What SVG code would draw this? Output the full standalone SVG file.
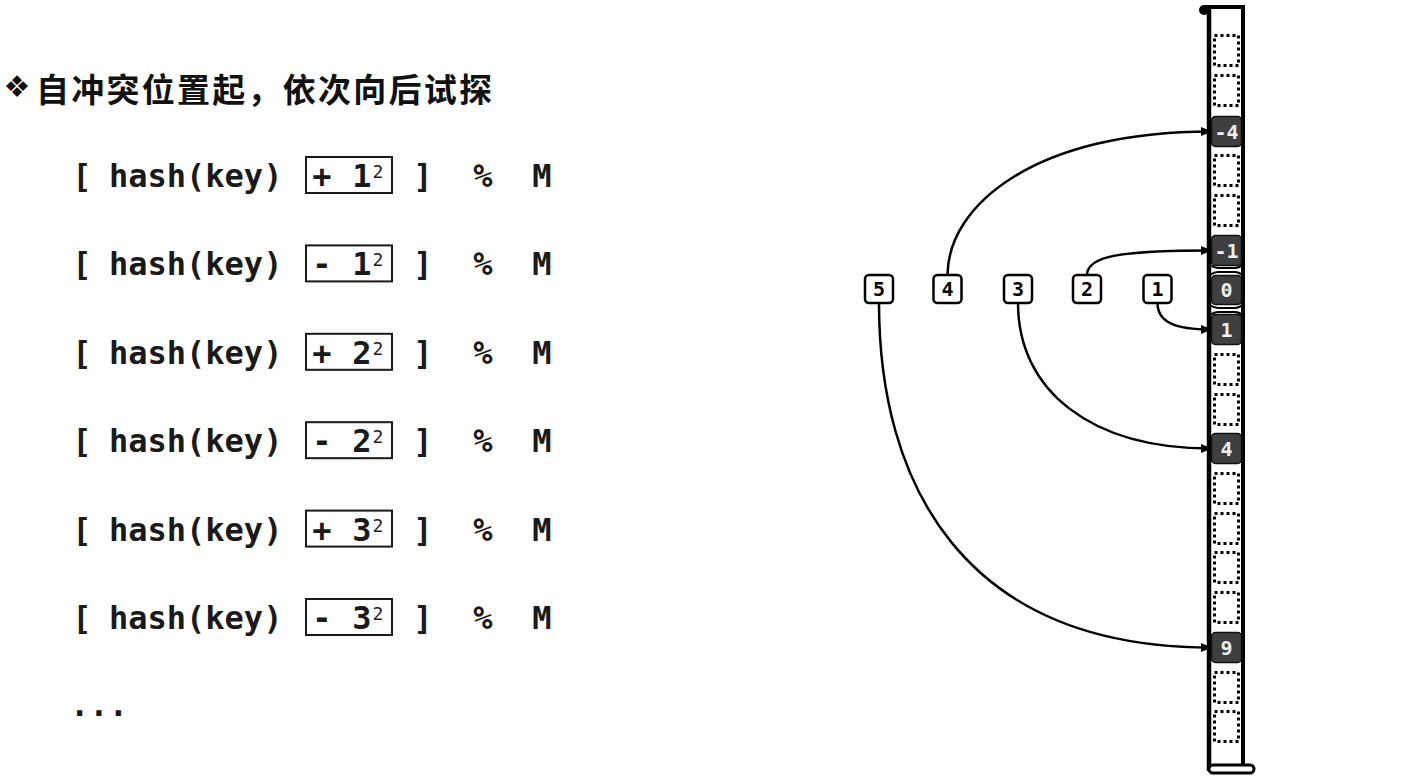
<svg xmlns="http://www.w3.org/2000/svg" width="1407" height="783" viewBox="0 0 1407 783">
<style>
.f{font-family:"DejaVu Sans Mono","Liberation Mono",monospace;font-weight:bold;font-size:32px;fill:#1a1a1a}
.m{text-anchor:middle}
.sup{font-family:"DejaVu Sans Mono","Liberation Mono",monospace;font-size:18px;fill:#1a1a1a;text-anchor:middle}
.bx{fill:none;stroke:#1a1a1a;stroke-width:2}
.nd rect{fill:#fff;stroke:#000;stroke-width:2.5}
.nd text{font-family:"DejaVu Sans Mono",monospace;font-weight:bold;font-size:20px;fill:#000;text-anchor:middle}
.dot{fill:none;stroke:#000;stroke-width:3;stroke-dasharray:3 3}
.dk rect{fill:#3f3f3f;stroke:#111;stroke-width:1.5}
.dk text{font-family:"DejaVu Sans Mono",monospace;font-weight:bold;font-size:20px;fill:#eee;text-anchor:middle}
.cn path{fill:none;stroke:#000;stroke-width:2.5;marker-end:url(#ah)}
</style>
<defs>
<marker id="ah" markerUnits="userSpaceOnUse" markerWidth="11" markerHeight="10" refX="10" refY="5" orient="auto">
<path d="M0,0.5 L11,5 L0,9.5 z" fill="#000"/>
</marker>
</defs>
<rect width="1407" height="783" fill="#fff"/>

<g id="title">
<text x="17" y="97" font-family="DejaVu Sans,sans-serif" font-size="30" text-anchor="middle" fill="#111">❖</text>
<text x="36" y="102" font-family="'Noto Sans CJK SC',sans-serif" font-weight="bold" font-size="33" textLength="456" lengthAdjust="spacing" fill="#111">自冲突位置起，依次向后试探</text>
</g>

<g id="formula1">
<text class="f m" x="82" y="187">[</text><text class="f" x="109" y="187">hash(key)</text>
<rect class="bx" x="306" y="157" width="86" height="36"/>
<text class="f m" x="322" y="187">+</text><text class="f m" x="362" y="187">1</text><text class="sup" x="378" y="178">2</text>
<text class="f m" x="423" y="187">]</text><text class="f m" x="483" y="187">%</text><text class="f m" x="542" y="187">M</text>
</g>
<g id="formula2">
<text class="f m" x="82" y="275.4">[</text><text class="f" x="109" y="275.4">hash(key)</text>
<rect class="bx" x="306" y="245.4" width="86" height="36"/>
<text class="f m" x="322" y="275.4">-</text><text class="f m" x="362" y="275.4">1</text><text class="sup" x="378" y="266.4">2</text>
<text class="f m" x="423" y="275.4">]</text><text class="f m" x="483" y="275.4">%</text><text class="f m" x="542" y="275.4">M</text>
</g>
<g id="formula3">
<text class="f m" x="82" y="363.8">[</text><text class="f" x="109" y="363.8">hash(key)</text>
<rect class="bx" x="306" y="333.8" width="86" height="36"/>
<text class="f m" x="322" y="363.8">+</text><text class="f m" x="362" y="363.8">2</text><text class="sup" x="378" y="354.8">2</text>
<text class="f m" x="423" y="363.8">]</text><text class="f m" x="483" y="363.8">%</text><text class="f m" x="542" y="363.8">M</text>
</g>
<g id="formula4">
<text class="f m" x="82" y="452.2">[</text><text class="f" x="109" y="452.2">hash(key)</text>
<rect class="bx" x="306" y="422.2" width="86" height="36"/>
<text class="f m" x="322" y="452.2">-</text><text class="f m" x="362" y="452.2">2</text><text class="sup" x="378" y="443.2">2</text>
<text class="f m" x="423" y="452.2">]</text><text class="f m" x="483" y="452.2">%</text><text class="f m" x="542" y="452.2">M</text>
</g>
<g id="formula5">
<text class="f m" x="82" y="540.6">[</text><text class="f" x="109" y="540.6">hash(key)</text>
<rect class="bx" x="306" y="510.6" width="86" height="36"/>
<text class="f m" x="322" y="540.6">+</text><text class="f m" x="362" y="540.6">3</text><text class="sup" x="378" y="531.6">2</text>
<text class="f m" x="423" y="540.6">]</text><text class="f m" x="483" y="540.6">%</text><text class="f m" x="542" y="540.6">M</text>
</g>
<g id="formula6">
<text class="f m" x="82" y="629">[</text><text class="f" x="109" y="629">hash(key)</text>
<rect class="bx" x="306" y="599" width="86" height="36"/>
<text class="f m" x="322" y="629">-</text><text class="f m" x="362" y="629">3</text><text class="sup" x="378" y="620">2</text>
<text class="f m" x="423" y="629">]</text><text class="f m" x="483" y="629">%</text><text class="f m" x="542" y="629">M</text>
</g>
<g id="ellipsis"><text class="f m" x="99" y="716">...</text></g>

<g id="array">
<line x1="1209" y1="8" x2="1209" y2="771" stroke="#000" stroke-width="4.5"/>
<line x1="1243" y1="6" x2="1243" y2="767" stroke="#000" stroke-width="4"/>
<path d="M1203,7 L1245,7" stroke="#000" stroke-width="4" fill="none"/>
<circle cx="1204" cy="10" r="5" fill="#000"/>
<rect x="1209" y="765" width="45" height="8" rx="4" fill="#fff" stroke="#000" stroke-width="3"/>
<rect class="dot" x="1214.5" y="35.5" width="24" height="30"/>
<rect class="dot" x="1214.5" y="75.5" width="24" height="30"/>
<rect class="dot" x="1214.5" y="155.5" width="24" height="30"/>
<rect class="dot" x="1214.5" y="195.5" width="24" height="30"/>
<rect class="dot" x="1214.5" y="354.5" width="24" height="30"/>
<rect class="dot" x="1214.5" y="394.5" width="24" height="30"/>
<rect class="dot" x="1214.5" y="473.5" width="24" height="30"/>
<rect class="dot" x="1214.5" y="513.5" width="24" height="30"/>
<rect class="dot" x="1214.5" y="552.5" width="24" height="30"/>
<rect class="dot" x="1214.5" y="592.5" width="24" height="30"/>
<rect class="dot" x="1214.5" y="672.5" width="24" height="30"/>
<rect class="dot" x="1214.5" y="711.5" width="24" height="30"/>
<path d="M1210,265 Q1214,268 1218,268 L1235,268 Q1239,268 1242,265 M1210,275 Q1214,272 1218,272 L1235,272 Q1239,272 1242,275" fill="none" stroke="#000" stroke-width="2"/>
<path d="M1210,305 Q1214,308 1218,308 L1235,308 Q1239,308 1242,305 M1210,315 Q1214,312 1218,312 L1235,312 Q1239,312 1242,315" fill="none" stroke="#000" stroke-width="2"/>
</g>
<g id="cell-m4" class="dk"><rect x="1211.5" y="116.5" width="30" height="30" rx="4"/><text x="1226.5" y="138.5">-4</text></g>
<g id="cell-m1" class="dk"><rect x="1211.5" y="235.5" width="30" height="30" rx="4"/><text x="1226.5" y="257.5">-1</text></g>
<g id="cell-0" class="dk"><rect x="1211.5" y="275.5" width="30" height="29" rx="4"/><text x="1226.5" y="297">0</text></g>
<g id="cell-1" class="dk"><rect x="1211.5" y="314.5" width="30" height="30" rx="4"/><text x="1226.5" y="336.5">1</text></g>
<g id="cell-4" class="dk"><rect x="1211.5" y="433.5" width="30" height="30" rx="4"/><text x="1226.5" y="455.5">4</text></g>
<g id="cell-9" class="dk"><rect x="1211.5" y="632.5" width="30" height="30" rx="4"/><text x="1226.5" y="654.5">9</text></g>

<g id="node5" class="nd"><rect x="865" y="275" width="28" height="28" rx="4"/><text x="879" y="296">5</text></g>
<g id="node4" class="nd"><rect x="933.5" y="275" width="28" height="28" rx="4"/><text x="947.5" y="296">4</text></g>
<g id="node3" class="nd"><rect x="1004" y="275" width="28" height="28" rx="4"/><text x="1018" y="296">3</text></g>
<g id="node2" class="nd"><rect x="1073" y="275" width="28" height="28" rx="4"/><text x="1087" y="296">2</text></g>
<g id="node1" class="nd"><rect x="1143.5" y="275" width="28" height="28" rx="4"/><text x="1157.5" y="296">1</text></g>

<g id="connectors" class="cn">
<path d="M1157.5,303 C1157.5,322 1175,329.5 1211,329.5"/>
<path d="M1087,275 C1087,256 1120,250.5 1211,250.5"/>
<path d="M1018,303 C1018,390 1090,448.5 1211,448.5"/>
<path d="M947.5,275 C948,205 1035,131.5 1211,131.5"/>
<path d="M879,303 C879,480 960,647.5 1211,647.5"/>
</g>
</svg>
